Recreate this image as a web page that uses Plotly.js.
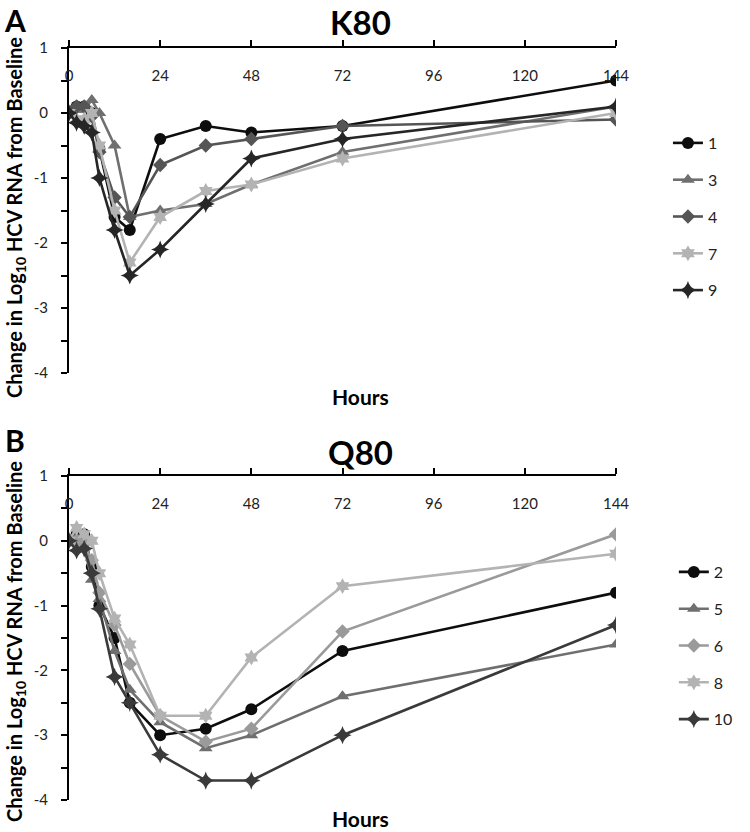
<!DOCTYPE html>
<html>
<head>
<meta charset="utf-8">
<script src="https://cdn.plot.ly/plotly-3.0.1.min.js"></script>
<style>html,body{margin:0;padding:0;background:#fff;}#chart{width:750px;height:832px;}</style>
</head>
<body>
<div id="chart"></div>
<script>
// ---- data ----
const hours = [0, 2, 4, 6, 8, 12, 16, 24, 36, 48, 72, 144];
const xTicks = [0, 24, 48, 72, 96, 120, 144];
const yTicks = [1, 0, -1, -2, -3, -4];

const k80Names = ["1", "3", "4", "7", "9"];
const k80_p1 = [0, 0.1, 0.1, 0.0, -0.55, -1.6, -1.8, -0.4, -0.2, -0.3, -0.2, 0.5];
const k80_p3 = [0, 0.05, 0.05, 0.2, 0.0, -0.5, -1.6, -1.5, -1.4, -1.1, -0.6, 0.1];
const k80_p4 = [0, 0.1, 0.1, -0.05, -0.6, -1.3, -1.6, -0.8, -0.5, -0.4, -0.2, -0.1];
const k80_p7 = [0, -0.1, -0.1, 0.0, -0.5, -1.5, -2.3, -1.6, -1.2, -1.1, -0.7, 0.0];
const k80_p9 = [0, -0.15, -0.2, -0.3, -1.0, -1.8, -2.5, -2.1, -1.4, -0.7, -0.4, 0.1];

const q80Names = ["2", "5", "6", "8", "10"];
const q80_p2 = [0, 0.1, 0.1, -0.4, -1.0, -1.5, -2.5, -3.0, -2.9, -2.6, -1.7, -0.8];
const q80_p5 = [0, 0.05, -0.1, -0.6, -0.9, -1.7, -2.3, -2.8, -3.2, -3.0, -2.4, -1.6];
const q80_p6 = [0, 0.0, -0.05, -0.3, -0.8, -1.3, -1.9, -2.7, -3.1, -2.9, -1.4, 0.1];
const q80_p8 = [0, 0.2, 0.1, 0.0, -0.5, -1.2, -1.6, -2.7, -2.7, -1.8, -0.7, -0.2];
const q80_p10 = [0, -0.15, -0.12, -0.5, -1.05, -2.1, -2.5, -3.3, -3.7, -3.7, -3.0, -1.3];

// ---- styles ----
const k80Styles = [
  {color: "#0d0d0d", symbol: "circle", size: 12},
  {color: "#6f6f6f", symbol: "triangle-up", size: 12},
  {color: "#555555", symbol: "diamond", size: 11},
  {color: "#b3b3b3", symbol: "hexagram", size: 12},
  {color: "#262626", symbol: "star-diamond", size: 13}
];
const q80Styles = [
  {color: "#0d0d0d", symbol: "circle", size: 12},
  {color: "#6f6f6f", symbol: "triangle-up", size: 12},
  {color: "#9a9a9a", symbol: "diamond", size: 11},
  {color: "#b3b3b3", symbol: "hexagram", size: 12},
  {color: "#3a3a3a", symbol: "star-diamond", size: 13}
];

const k80Series = [k80_p1, k80_p3, k80_p4, k80_p7, k80_p9];
const q80Series = [q80_p2, q80_p5, q80_p6, q80_p8, q80_p10];

const traces = [];
k80Series.forEach((ys, i) => {
  const s = k80Styles[i];
  traces.push({
    x: hours, y: ys, xaxis: "x", yaxis: "y", name: k80Names[i],
    type: "scatter", mode: "lines+markers",
    line: {color: s.color, width: 2.6},
    marker: {color: s.color, symbol: s.symbol, size: s.size, line: {width: 0}},
    legend: "legend", legendgroup: "k" + i
  });
});
q80Series.forEach((ys, i) => {
  const s = q80Styles[i];
  traces.push({
    x: hours, y: ys, xaxis: "x2", yaxis: "y2", name: q80Names[i],
    type: "scatter", mode: "lines+markers",
    line: {color: s.color, width: 2.6},
    marker: {color: s.color, symbol: s.symbol, size: s.size, line: {width: 0}},
    legend: "legend2", legendgroup: "q" + i
  });
});

// pixel helpers for positioning (layout only)
const L = 69, R = 627, T = 48, B = 800;
const px = v => (v - L) / (R - L);
const py = v => (B - v) / (B - T);

const tickFont = {family: "Lato, 'Open Sans', sans-serif", size: 15, color: "#222"};
function xAxis(anchor) {
  return {
    anchor: anchor, side: "top", range: [0, 144], domain: [0, 1],
    tickvals: xTicks, ticktext: xTicks.map(String),
    ticks: "outside", ticklen: 6, tickwidth: 2, tickcolor: "#000",
    showline: true, linecolor: "#000", linewidth: 2,
    showgrid: false, zeroline: false,
    ticklabelposition: "inside", ticklabeloverflow: "allow", ticklabelstandoff: 22,
    tickfont: tickFont, fixedrange: true
  };
}
function yAxis(anchor, domain) {
  return {
    anchor: anchor, domain: domain, range: [-4, 1],
    tickvals: yTicks, ticktext: yTicks.map(String),
    ticks: "outside", ticklen: 6, tickwidth: 2, tickcolor: "#000",
    minor: {dtick: 0.5, tick0: 0, ticks: "outside", ticklen: 6, tickwidth: 2, tickcolor: "#000", showgrid: false},
    showline: true, linecolor: "#000", linewidth: 2,
    showgrid: false, zeroline: false, ticklabelstandoff: 10,
    tickfont: tickFont, fixedrange: true
  };
}

const boldFont = (sz) => ({family: "Lato, 'Open Sans', sans-serif", size: sz, color: "#000", weight: "bold"});
const yTitle = "Change in Log<sub>10</sub> HCV RNA from Baseline";

const annotations = [
  {text: "<b>A</b>", x: px(14), y: py(20), font: boldFont(30)},
  {text: "<b>K80</b>", x: px(366), y: py(22), font: boldFont(33)},
  {text: "<b>Hours</b>", x: px(366), y: py(396), font: boldFont(21)},
  {text: "<b>" + yTitle + "</b>", x: px(14), y: py(218), textangle: -90, font: boldFont(20)},
  {text: "<b>B</b>", x: px(14), y: py(440), font: boldFont(30)},
  {text: "<b>Q80</b>", x: px(366), y: py(452), font: boldFont(33)},
  {text: "<b>Hours</b>", x: px(366), y: py(818), font: boldFont(21)},
  {text: "<b>" + yTitle + "</b>", x: px(14), y: py(642), textangle: -90, font: boldFont(20)}
].map(a => Object.assign({xref: "paper", yref: "paper", showarrow: false, xanchor: "center", yanchor: "middle"}, a));

const legendFont = {family: "Lato, 'Open Sans', sans-serif", size: 16, color: "#222"};
const layout = {
  width: 750, height: 832,
  margin: {l: L, r: 750 - R, t: T, b: 832 - B, pad: 0},
  paper_bgcolor: "#fff", plot_bgcolor: "#fff",
  showlegend: true,
  xaxis: xAxis("y"),
  yaxis: yAxis("x", [py(373), 1]),
  xaxis2: xAxis("y2"),
  yaxis2: yAxis("x2", [0, py(476)]),
  legend: {x: px(680), y: py(126), xanchor: "left", yanchor: "top", font: legendFont,
           tracegroupgap: 13, bgcolor: "rgba(0,0,0,0)", itemclick: false},
  legend2: {x: px(686), y: py(555), xanchor: "left", yanchor: "top", font: legendFont,
            tracegroupgap: 13, bgcolor: "rgba(0,0,0,0)", itemclick: false},
  annotations: annotations
};

Plotly.newPlot("chart", traces, layout, {displayModeBar: false, staticPlot: true});
</script>
</body>
</html>
